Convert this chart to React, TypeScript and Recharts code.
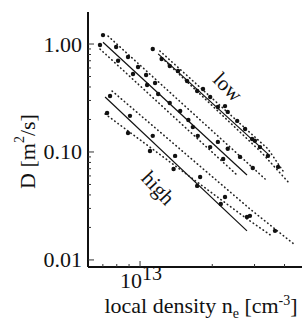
import React from 'react';
import { ScatterChart, Scatter, XAxis, YAxis } from 'recharts';

const FONT = '"Liberation Serif", "Times New Roman", serif';

const X_DOMAIN = [6.07e12, 4.73e13];
const Y_DOMAIN = [0.0086, 1.98];
const X_TICKS = [7e12, 8e12, 9e12, 1e13, 2e13, 3e13, 4e13];
const X_LABELED = [1e13];
const Y_TICKS = [
  0.01, 0.02, 0.03, 0.04, 0.05, 0.06, 0.07, 0.08, 0.09,
  0.1, 0.2, 0.3, 0.4, 0.5, 0.6, 0.7, 0.8, 0.9, 1,
];
const Y_LABELED = [0.01, 0.1, 1];

// "low" group (upper right)
const lowFit = [
  { n: 1.19e13, d: 0.81 },
  { n: 3.48e13, d: 0.092 },
];
const lowUpper = [
  { n: 1.21e13, d: 0.862 },
  { n: 3.41e13, d: 0.107 },
  { n: 3.94e13, d: 0.0668 },
];
const lowLower = [
  { n: 1.27e13, d: 0.7 },
  { n: 3.22e13, d: 0.098 },
  { n: 4.14e13, d: 0.0528 },
];
const lowPoints = [
  { n: 1.13e13, d: 0.9 },
  { n: 1.23e13, d: 0.726 },
  { n: 1.33e13, d: 0.626 },
  { n: 1.44e13, d: 0.563 },
  { n: 1.57e13, d: 0.454 },
  { n: 1.73e13, d: 0.367 },
  { n: 1.83e13, d: 0.383 },
  { n: 1.96e13, d: 0.323 },
  { n: 2.11e13, d: 0.261 },
  { n: 2.26e13, d: 0.266 },
  { n: 2.32e13, d: 0.235 },
  { n: 2.54e13, d: 0.194 },
  { n: 2.74e13, d: 0.163 },
  { n: 2.93e13, d: 0.132 },
  { n: 3.01e13, d: 0.127 },
  { n: 3.16e13, d: 0.111 },
  { n: 3.41e13, d: 0.092 },
  { n: 3.76e13, d: 0.0727 },
];

// middle group
const midFit = [
  { n: 7.01e12, d: 1.04 },
  { n: 2.79e13, d: 0.0612 },
];
const midUpper = [
  { n: 7.36e12, d: 1.185 },
  { n: 3.32e13, d: 0.0562 },
];
const midLower = [
  { n: 6.81e12, d: 0.899 },
  { n: 2.56e13, d: 0.06 },
];
const midPoints = [
  { n: 6.81e12, d: 0.979 },
  { n: 7.01e12, d: 1.21 },
  { n: 7.95e12, d: 0.938 },
  { n: 8.1e12, d: 0.7 },
  { n: 8.91e12, d: 0.758 },
  { n: 9.35e12, d: 0.527 },
  { n: 9.81e12, d: 0.612 },
  { n: 1.06e13, d: 0.516 },
  { n: 1.07e13, d: 0.417 },
  { n: 1.155e13, d: 0.435 },
  { n: 1.19e13, d: 0.344 },
  { n: 1.33e13, d: 0.284 },
  { n: 1.47e13, d: 0.24 },
  { n: 1.59e13, d: 0.198 },
  { n: 1.66e13, d: 0.17 },
  { n: 1.74e13, d: 0.141 },
  { n: 1.96e13, d: 0.111 },
  { n: 2.11e13, d: 0.124 },
  { n: 2.22e13, d: 0.0861 },
  { n: 2.32e13, d: 0.107 },
  { n: 2.61e13, d: 0.09 },
  { n: 2.95e13, d: 0.0711 },
];

// "high" group (lower left)
const highFit = [
  { n: 7.15e12, d: 0.323 },
  { n: 2.79e13, d: 0.0186 },
];
const highUpper = [
  { n: 7.65e12, d: 0.367 },
  { n: 2.87e13, d: 0.0297 },
  { n: 4.42e13, d: 0.0138 },
];
const highLower = [
  { n: 7.15e12, d: 0.225 },
  { n: 2.79e13, d: 0.024 },
  { n: 3.48e13, d: 0.0171 },
];
const highPoints = [
  { n: 7.5e12, d: 0.33 },
  { n: 7.29e12, d: 0.23 },
  { n: 9.08e12, d: 0.216 },
  { n: 8.91e12, d: 0.15 },
  { n: 1.13e13, d: 0.141 },
  { n: 1.1e13, d: 0.102 },
  { n: 1.4e13, d: 0.092 },
  { n: 1.38e13, d: 0.0696 },
  { n: 1.78e13, d: 0.0586 },
  { n: 1.73e13, d: 0.0485 },
  { n: 2.26e13, d: 0.0383 },
  { n: 2.17e13, d: 0.033 },
  { n: 2.87e13, d: 0.0256 },
  { n: 2.79e13, d: 0.025 },
  { n: 3.65e13, d: 0.0186 },
];

const groupLabels = [
  { n: 2.32e13, d: 0.4, text: 'low', angle: 45 },
  { n: 1.19e13, d: 0.0464, text: 'high', angle: 47 },
];

const fitLine = { stroke: '#111', strokeWidth: 1.2 };
const dotLine = {
  stroke: '#222',
  strokeWidth: 1.6,
  strokeDasharray: '0.5 3.5',
  strokeLinecap: 'round' as const,
};

const noShape = () => <g />;
const dotShape = (p: any) => <circle cx={p.cx} cy={p.cy} r={2.2} fill="#111" />;
const labelShape = (p: any) => (
  <text
    x={p.cx}
    y={p.cy}
    transform={`rotate(${p.payload.angle}, ${p.cx}, ${p.cy})`}
    textAnchor="middle"
    dominantBaseline="central"
    fontFamily={FONT}
    fontSize={21}
    fill="#111"
  >
    {p.payload.text}
  </text>
);

const LeftTick = (props: any) => {
  const { x, y, payload } = props;
  const major = Y_LABELED.includes(payload.value);
  return (
    <g>
      <line x1={x} y1={y} x2={x + (major ? 6 : 3)} y2={y} stroke="#333" strokeWidth={1} />
      {major && (
        <text x={x - 6} y={y} textAnchor="end" dominantBaseline="central" fontFamily={FONT} fontSize={22} fill="#111">
          {payload.value.toFixed(2)}
        </text>
      )}
    </g>
  );
};

const RightTick = (props: any) => {
  const { x, y, payload } = props;
  const major = Y_LABELED.includes(payload.value);
  return <line x1={x} y1={y} x2={x - (major ? 6 : 3)} y2={y} stroke="#333" strokeWidth={1} />;
};

const BottomTick = (props: any) => {
  const { x, y, payload } = props;
  const major = X_LABELED.includes(payload.value);
  return (
    <g>
      <line x1={x} y1={y} x2={x} y2={y - (major ? 6 : 3)} stroke="#333" strokeWidth={1} />
      {major && (
        <text x={x + 1} y={y + 21} textAnchor="middle" fontFamily={FONT} fontSize={22} fill="#111">
          10
          <tspan dy={-8} fontSize={20}>13</tspan>
        </text>
      )}
    </g>
  );
};

const TopTick = (props: any) => {
  const { x, y } = props;
  return <line x1={x} y1={y} x2={x} y2={y + 3} stroke="#333" strokeWidth={1} />;
};

const XTitle = (props: any) => {
  const vb = props.viewBox;
  return (
    <text x={vb.x + vb.width / 2 + 6} y={vb.y + 46} textAnchor="middle" fontFamily={FONT} fontSize={22} fill="#111">
      local density n
      <tspan dy={5} fontSize={14}>e</tspan>
      <tspan dy={-5}> [cm</tspan>
      <tspan dy={-8} fontSize={14}>-3</tspan>
      <tspan dy={8}>]</tspan>
    </text>
  );
};

const YTitle = (props: any) => {
  const vb = props.viewBox;
  const cx = vb.x + 27;
  const cy = vb.y + vb.height / 2 + 12;
  return (
    <text
      x={cx}
      y={cy}
      transform={`rotate(-90, ${cx}, ${cy})`}
      textAnchor="middle"
      dominantBaseline="central"
      fontFamily={FONT}
      fontSize={22}
      fill="#111"
    >
      D [m
      <tspan dy={-8} fontSize={14}>2</tspan>
      <tspan dy={8}>/s]</tspan>
    </text>
  );
};

export default function App() {
  return (
    <div style={{ position: 'absolute', left: 0, top: 0, background: '#fff' }}>
      <ScatterChart width={304} height={321} margin={{ top: 12, right: 2, bottom: 0, left: 0 }}>
        <XAxis
          dataKey="n"
          type="number"
          scale="log"
          domain={X_DOMAIN}
          allowDataOverflow
          ticks={X_TICKS}
          interval={0}
          height={54}
          tickSize={0}
          tickMargin={0}
          tickLine={false}
          tick={BottomTick}
          axisLine={{ stroke: '#111', strokeWidth: 2 }}
          label={{ content: XTitle }}
        />
        <XAxis
          xAxisId="top"
          orientation="top"
          dataKey="n"
          type="number"
          scale="log"
          domain={X_DOMAIN}
          allowDataOverflow
          ticks={X_TICKS}
          interval={0}
          height={0}
          tickSize={0}
          tickMargin={0}
          tickLine={false}
          tick={TopTick}
          axisLine={{ stroke: '#444', strokeWidth: 1 }}
        />
        <YAxis
          dataKey="d"
          type="number"
          scale="log"
          domain={Y_DOMAIN}
          allowDataOverflow
          ticks={Y_TICKS}
          interval={0}
          width={88}
          tickSize={0}
          tickMargin={0}
          tickLine={false}
          tick={LeftTick}
          axisLine={{ stroke: '#111', strokeWidth: 2 }}
          label={{ content: YTitle }}
        />
        <YAxis
          yAxisId="right"
          orientation="right"
          dataKey="d"
          type="number"
          scale="log"
          domain={Y_DOMAIN}
          allowDataOverflow
          ticks={Y_TICKS}
          interval={0}
          width={0}
          tickSize={0}
          tickMargin={0}
          tickLine={false}
          tick={RightTick}
          axisLine={{ stroke: '#444', strokeWidth: 1 }}
        />

        <Scatter data={lowFit} line={fitLine} shape={noShape} isAnimationActive={false} />
        <Scatter data={lowUpper} line={dotLine} shape={noShape} isAnimationActive={false} />
        <Scatter data={lowLower} line={dotLine} shape={noShape} isAnimationActive={false} />
        <Scatter data={lowPoints} shape={dotShape} isAnimationActive={false} />

        <Scatter data={midFit} line={fitLine} shape={noShape} isAnimationActive={false} />
        <Scatter data={midUpper} line={dotLine} shape={noShape} isAnimationActive={false} />
        <Scatter data={midLower} line={dotLine} shape={noShape} isAnimationActive={false} />
        <Scatter data={midPoints} shape={dotShape} isAnimationActive={false} />

        <Scatter data={highFit} line={fitLine} shape={noShape} isAnimationActive={false} />
        <Scatter data={highUpper} line={dotLine} shape={noShape} isAnimationActive={false} />
        <Scatter data={highLower} line={dotLine} shape={noShape} isAnimationActive={false} />
        <Scatter data={highPoints} shape={dotShape} isAnimationActive={false} />

        <Scatter data={groupLabels} shape={labelShape} isAnimationActive={false} />
      </ScatterChart>
    </div>
  );
}
